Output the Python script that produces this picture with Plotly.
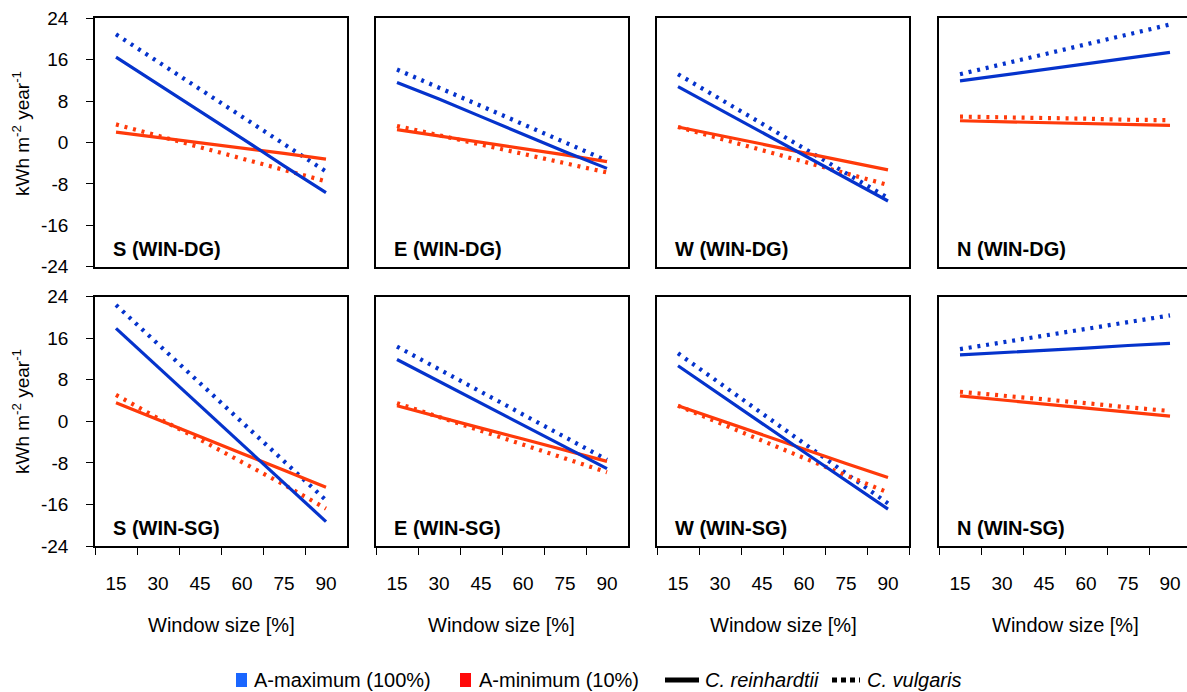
import plotly.graph_objects as go

# Window size categories (% of facade)
window_size = ["15", "30", "45", "60", "75", "90"]

# Net energy balance [kWh m-2 year-1]
# max = A-maximum (100%), min = A-minimum (10%)
# rein = C. reinhardtii, vulg = C. vulgaris

# S facade, double glazing
s_dg_max_rein = [16.5, 11.3, 6.0, 0.8, -4.5, -9.7]
s_dg_max_vulg = [20.9, 15.6, 10.3, 5.0, -0.3, -5.6]
s_dg_min_rein = [2.0, 1.0, 0.0, -1.1, -2.1, -3.2]
s_dg_min_vulg = [3.5, 1.3, -0.9, -3.1, -5.3, -7.5]

# E facade, double glazing
e_dg_max_rein = [11.6, 8.4, 5.0, 1.6, -1.8, -5.0]
e_dg_max_vulg = [14.1, 10.6, 7.1, 3.6, 0.0, -3.5]
e_dg_min_rein = [2.5, 1.3, 0.1, -1.2, -2.4, -3.7]
e_dg_min_vulg = [3.2, 1.4, -0.4, -2.2, -4.0, -5.8]

# W facade, double glazing
w_dg_max_rein = [10.8, 6.4, 2.0, -2.4, -6.9, -11.3]
w_dg_max_vulg = [13.2, 8.4, 3.6, -1.1, -5.9, -10.7]
w_dg_min_rein = [3.0, 1.4, -0.3, -2.0, -3.6, -5.3]
w_dg_min_vulg = [3.0, 0.8, -1.4, -3.7, -5.9, -8.2]

# N facade, double glazing
n_dg_max_rein = [11.9, 13.0, 14.1, 15.2, 16.3, 17.4]
n_dg_max_vulg = [13.2, 15.1, 17.0, 18.9, 20.9, 22.8]
n_dg_min_rein = [4.2, 4.0, 3.8, 3.6, 3.4, 3.3]
n_dg_min_vulg = [5.0, 4.9, 4.7, 4.6, 4.4, 4.3]

# S facade, single glazing
s_sg_max_rein = [17.9, 10.5, 3.0, -4.4, -11.9, -19.3]
s_sg_max_vulg = [22.4, 14.9, 7.4, -0.1, -7.7, -15.2]
s_sg_min_rein = [3.6, 0.3, -2.9, -6.2, -9.4, -12.7]
s_sg_min_vulg = [5.1, 0.6, -3.5, -7.8, -12.2, -16.8]

# E facade, single glazing
e_sg_max_rein = [11.9, 7.7, 3.5, -0.6, -4.8, -9.1]
e_sg_max_vulg = [14.4, 10.0, 5.7, 1.4, -3.0, -7.4]
e_sg_min_rein = [3.0, 0.8, -1.3, -3.4, -5.5, -7.7]
e_sg_min_vulg = [3.5, 0.8, -1.8, -4.5, -7.1, -9.8]

# W facade, single glazing
w_sg_max_rein = [10.7, 5.1, -0.4, -5.9, -11.4, -16.9]
w_sg_max_vulg = [13.1, 7.3, 1.5, -4.2, -10.0, -15.8]
w_sg_min_rein = [3.0, 0.2, -2.6, -5.3, -8.1, -10.8]
w_sg_min_vulg = [3.0, -0.4, -3.7, -7.0, -10.4, -13.7]

# N facade, single glazing
n_sg_max_rein = [12.8, 13.2, 13.7, 14.1, 14.6, 15.0]
n_sg_max_vulg = [13.9, 15.2, 16.5, 17.8, 19.1, 20.4]
n_sg_min_rein = [4.9, 4.1, 3.3, 2.6, 1.8, 1.0]
n_sg_min_vulg = [5.7, 5.0, 4.2, 3.5, 2.7, 2.0]

y_ticks = [-24, -16, -8, 0, 8, 16, 24]
y_tick_text = ["-24", "-16", "-8", "0", "8", "16", "24"]

panels = [
    ("S", "WIN-DG", s_dg_max_rein, s_dg_max_vulg, s_dg_min_rein, s_dg_min_vulg),
    ("E", "WIN-DG", e_dg_max_rein, e_dg_max_vulg, e_dg_min_rein, e_dg_min_vulg),
    ("W", "WIN-DG", w_dg_max_rein, w_dg_max_vulg, w_dg_min_rein, w_dg_min_vulg),
    ("N", "WIN-DG", n_dg_max_rein, n_dg_max_vulg, n_dg_min_rein, n_dg_min_vulg),
    ("S", "WIN-SG", s_sg_max_rein, s_sg_max_vulg, s_sg_min_rein, s_sg_min_vulg),
    ("E", "WIN-SG", e_sg_max_rein, e_sg_max_vulg, e_sg_min_rein, e_sg_min_vulg),
    ("W", "WIN-SG", w_sg_max_rein, w_sg_max_vulg, w_sg_min_rein, w_sg_min_vulg),
    ("N", "WIN-SG", n_sg_max_rein, n_sg_max_vulg, n_sg_min_rein, n_sg_min_vulg),
]

W, H = 1187, 692
BLUE = "#0533cc"
RED = "#ff3a0a"
FONT = "Liberation Sans, Arial, sans-serif"

# panel frames in pixels
col_px = [(95, 347), (376, 628), (657, 909), (939, 1191)]
row_px = [(18.3, 266.7), (296.7, 546.0)]

def px_x(v):
    return v / W

def px_y(v):
    return 1 - v / H

fig = go.Figure()
layout = {}
annotations = []

for i, (side, glazing, max_rein, max_vulg, min_rein, min_vulg) in enumerate(panels):
    r, c = divmod(i, 4)
    xa = "x" if i == 0 else f"x{i + 1}"
    ya = "y" if i == 0 else f"y{i + 1}"
    left, right = col_px[c]
    top, bottom = row_px[r]
    right_clip = min(right, W)
    x_hi = -0.5 + 6 * (right_clip - left) / (right - left)

    series = [
        (max_vulg, BLUE, "vulg"),
        (min_vulg, RED, "vulg"),
        (min_rein, RED, "rein"),
        (max_rein, BLUE, "rein"),
    ]
    for vals, color, kind in series:
        if kind == "rein":
            line = dict(color=color, width=3.2)
        else:
            line = dict(color=color, width=4.2, dash="3px,5.8px")
        fig.add_trace(go.Scatter(
            x=window_size, y=vals, mode="lines", line=line,
            xaxis=xa, yaxis=ya, showlegend=False, hoverinfo="skip",
        ))

    layout["xaxis" if i == 0 else f"xaxis{i + 1}"] = dict(
        type="category", categoryorder="array", categoryarray=window_size,
        range=[-0.5, x_hi], domain=[px_x(left), px_x(right_clip)],
        anchor=ya, showline=True, linecolor="black", linewidth=1.6,
        mirror=True, showgrid=False, zeroline=False,
        ticks="outside" if r == 1 else "", tickson="boundaries",
        ticklen=7, tickwidth=1.3, tickcolor="black",
        showticklabels=(r == 1), ticklabelstandoff=19,
        tickfont=dict(family=FONT, size=19, color="black"),
    )
    layout["yaxis" if i == 0 else f"yaxis{i + 1}"] = dict(
        range=[-24, 24], tickvals=y_ticks, ticktext=y_tick_text,
        domain=[px_y(bottom), px_y(top)],
        anchor=xa, showline=True, linecolor="black", linewidth=1.6,
        mirror=(c != 3), showgrid=False, zeroline=False,
        ticks="outside" if c == 0 else "", ticklen=7, tickwidth=1.3,
        tickcolor="black", showticklabels=(c == 0), ticklabelstandoff=14,
        tickfont=dict(family=FONT, size=19, color="black"),
    )

    # panel caption
    annotations.append(dict(
        text=f"<b>{side} ({glazing})</b>", xref="paper", yref="paper",
        x=px_x(left + 16), y=px_y(248.7 if r == 0 else 528),
        xanchor="left", yanchor="middle", showarrow=False,
        font=dict(family=FONT, size=20, color="black"),
    ))
    if r == 1:
        annotations.append(dict(
            text="Window size [%]", xref="paper", yref="paper",
            x=px_x((left + right) / 2), y=px_y(625),
            xanchor="center", yanchor="middle", showarrow=False,
            font=dict(family=FONT, size=20, color="black"),
        ))
    if c == 0:
        annotations.append(dict(
            text="kWh m<sup>-2</sup> year<sup>-1</sup>", xref="paper", yref="paper",
            x=px_x(21), y=px_y(134 if r == 0 else 412), textangle=-90,
            xanchor="center", yanchor="middle", showarrow=False,
            font=dict(family=FONT, size=19, color="black"),
        ))

# legend row
LEG_Y = 680
shapes = [
    dict(type="rect", xref="paper", yref="paper", x0=px_x(236), x1=px_x(247),
         y0=px_y(LEG_Y + 7), y1=px_y(LEG_Y - 7), fillcolor="#1a66ff", line=dict(width=0)),
    dict(type="rect", xref="paper", yref="paper", x0=px_x(460), x1=px_x(471),
         y0=px_y(LEG_Y + 7), y1=px_y(LEG_Y - 7), fillcolor="#ff0a0a", line=dict(width=0)),
    dict(type="line", xref="paper", yref="paper", x0=px_x(665), x1=px_x(699),
         y0=px_y(LEG_Y), y1=px_y(LEG_Y), line=dict(color="black", width=5)),
    dict(type="line", xref="paper", yref="paper", x0=px_x(832), x1=px_x(860),
         y0=px_y(LEG_Y), y1=px_y(LEG_Y),
         line=dict(color="black", width=5, dash="5px,4px")),
]
legend_text = [
    (252, "A-maximum (100%)"),
    (477, "A-minimum (10%)"),
    (703, "<i>C. reinhardtii</i>"),
    (865, "<i>C. vulgaris</i>"),
]
for x0, txt in legend_text:
    annotations.append(dict(
        text=txt, xref="paper", yref="paper", x=px_x(x0), y=px_y(LEG_Y),
        xanchor="left", yanchor="middle", showarrow=False,
        font=dict(family=FONT, size=20, color="black"),
    ))

fig.update_layout(
    **layout,
    width=W, height=H,
    margin=dict(l=0, r=0, t=0, b=0, autoexpand=False),
    paper_bgcolor="white", plot_bgcolor="white",
    showlegend=False,
    annotations=annotations,
    shapes=shapes,
    font=dict(family=FONT, color="black"),
)

fig.write_html("out.html")
